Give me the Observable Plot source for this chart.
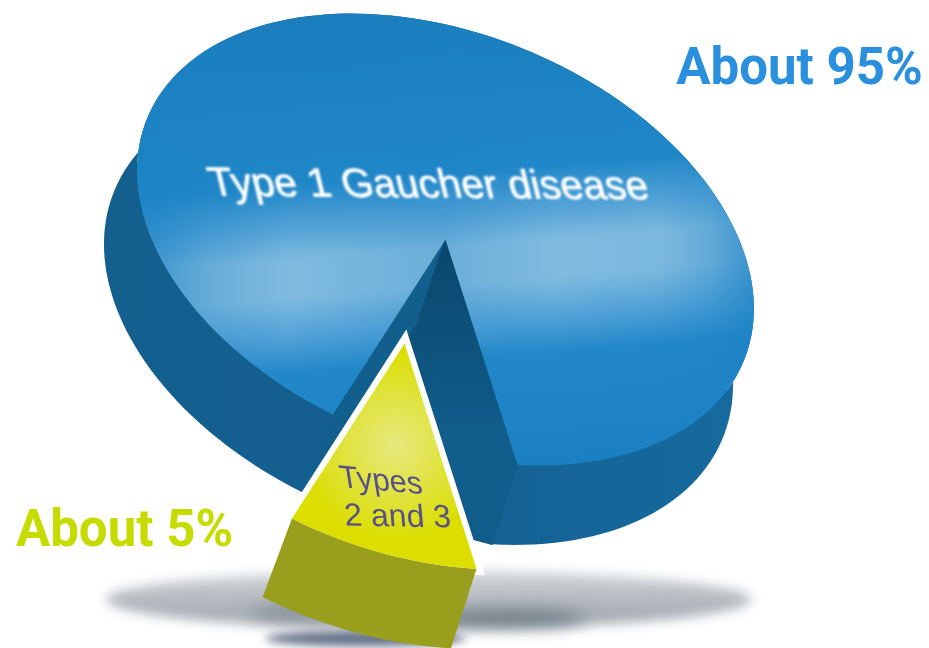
<!DOCTYPE html>
<html>
<head>
<meta charset="utf-8">
<script src="https://cdn.jsdelivr.net/npm/d3@7"></script>
<script src="https://cdn.jsdelivr.net/npm/@observablehq/plot@0.6"></script>
<style>html,body{margin:0;padding:0;background:#fff}svg{display:block}</style>
</head>
<body>
<div id="chart"></div>
<script>
// Data
const categories = ["Type 1 Gaucher disease", "Types 2 and 3"];
const shares = [95, 5];
const shareLabels = ["About 95%", "About 5%"];
const smallLabelLines = ["Types", "2 and 3"];

// Pie geometry (the picture draws the small slice wider than its true share)
const W = 929, H = 648;
const rad = Math.PI / 180;
const center = [445, 239], rimA = 322, rimB = 206, tilt = 22 * rad;
const floorCenter = [418, 314], floorScale = 1.02;
const depth = [-28, 83], explode = [-41, 104];
const smallStart = 62 * rad, exaggeration = 1.94;

const smallSweep = shares[1] / 100 * 2 * Math.PI * exaggeration;
const smallEnd = smallStart + smallSweep;
const bigEnd = smallStart + 2 * Math.PI;

const ellipse = (t, c, s, off) => {
  const u = s * rimA * Math.cos(t), v = s * rimB * Math.sin(t);
  return {
    x: c[0] + off[0] + u * Math.cos(tilt) - v * Math.sin(tilt),
    y: c[1] + off[1] + u * Math.sin(tilt) + v * Math.cos(tilt)
  };
};
const rim = (t, off = [0, 0]) => ellipse(t, center, 1, off);
const floor = (t, off = [0, 0]) => ellipse(t, floorCenter, floorScale, off);
const steps = d3.range(0, 161).map(i => i / 160);
const arc = (a, b, off, f = rim) => steps.map(i => f(a + (b - a) * i, off));
const apex = (off = [0, 0]) => ({x: center[0] + off[0], y: center[1] + off[1]});
const lowApex = (off = [0, 0]) => ({x: center[0] + depth[0] + off[0], y: center[1] + depth[1] + off[1]});
const slice = (a, b, off) => [apex(off), ...arc(a, b, off)];
const band = (a, b, off = [0, 0]) => [...arc(a, b, off), ...arc(a, b, off, floor).reverse()];
const wall = (t, off = [0, 0]) => [apex(off), rim(t, off), floor(t, off), lowApex(off)];
const notch = () => [lowApex(), floor(smallStart), floor(smallEnd)];
const blob = (cx, cy, rx, ry) => d3.range(0, 90).map(i => ({
  x: cx + rx * Math.cos(i * 4 * rad), y: cy + ry * Math.sin(i * 4 * rad)
}));
const poly = (pts, options) => Plot.line(pts, {x: "x", y: "y", curve: "linear-closed", stroke: "none", ...options});

const defs = () => {
  const d = d3.create("svg:defs");
  const grad = (id, kind, attrs, stops) => {
    const g = d.append(kind).attr("id", id).attr("gradientUnits", "userSpaceOnUse");
    Object.entries(attrs).forEach(([k, v]) => g.attr(k, v));
    stops.forEach(([o, c, a = 1]) => g.append("stop").attr("offset", o).attr("stop-color", c).attr("stop-opacity", a));
  };
  grad("blueTop", "linearGradient", {x1: 3.2, y1: 39.7, x2: 40.4, y2: 504.8}, [
    [0, "#1a7dbd"], [0.36, "#2087c8"], [0.46, "#5aa6d8"], [0.52, "#80bbdf"], [0.6, "#80bbdf"],
    [0.68, "#54a3d8"], [0.76, "#2388c9"], [1, "#1a80c2"]
  ]);
  grad("blueDim", "linearGradient", {x1: 135, y1: 0, x2: 752, y2: 0}, [
    [0, "#1b82c4", 0.7], [0.12, "#1b82c4", 0.25], [0.25, "#1b82c4", 0], [0.5, "#1b82c4", 0.22],
    [0.68, "#1b82c4", 0], [0.85, "#1b82c4", 0.05], [0.93, "#1b82c4", 0.3], [1, "#1b82c4", 0.7]
  ]);
  grad("blueWall", "linearGradient", {x1: 100, y1: 0, x2: 730, y2: 0}, [
    [0, "#135f8e"], [0.5, "#145f90"], [1, "#166a9e"]
  ]);
  grad("innerRight", "linearGradient", {x1: 0, y1: 240, x2: 0, y2: 430}, [
    [0, "#0a466c"], [1, "#105c8b"]
  ]);
  grad("yellowTop", "radialGradient", {cx: 395, cy: 445, r: 95}, [
    [0, "#e6e97e"], [0.55, "#e0e33c"], [1, "#dbde00"]
  ]);
  grad("shadow", "linearGradient", {x1: 0, y1: 570, x2: 0, y2: 628}, [
    [0, "#d5d8db"], [0.5, "#b5babf"], [1, "#9aa3aa"]
  ]);
  return d.node();
};

const chart = Plot.plot({
  width: W, height: H, margin: 0,
  style: {background: "#fff"},
  x: {domain: [0, W], range: [0, W], axis: null},
  y: {domain: [0, H], range: [0, H], axis: null},
  marks: [
    defs,
    // ground shadow
    poly(blob(428, 599, 323, 29), {fill: "url(#shadow)", imageFilter: "blur(6px)"}),
    poly(blob(510, 618, 75, 9), {fill: "#66747f", fillOpacity: 0.8, imageFilter: "blur(8px)"}),
    poly(blob(295, 612, 45, 8), {fill: "#7a868f", fillOpacity: 0.7, imageFilter: "blur(8px)"}),
    poly(blob(365, 638, 100, 8), {fill: "#68748a", imageFilter: "blur(4px)"}),
    // big slice
    poly(slice(smallEnd, bigEnd, [floorCenter[0] - center[0], floorCenter[1] - center[1]]), {fill: "#135f8e"}),
    poly(band(smallEnd, bigEnd), {fill: "url(#blueWall)"}),
    poly(notch(), {fill: "url(#innerRight)", stroke: "url(#innerRight)", strokeWidth: 1.5}),
    poly(wall(smallEnd), {fill: "#125f8d"}),
    poly(wall(smallStart + 2 * Math.PI), {fill: "url(#innerRight)", stroke: "url(#innerRight)", strokeWidth: 1}),
    poly(slice(smallEnd, bigEnd), {fill: "url(#blueTop)"}),
    poly(slice(smallEnd, bigEnd), {fill: "url(#blueDim)"}),
    // small slice
    poly(slice(smallStart, smallEnd, explode), {fill: "#fff", stroke: "#fff", strokeWidth: 12, strokeLinejoin: "miter", strokeMiterlimit: 8}),
    poly(band(smallStart, smallEnd, explode), {fill: "#9a9e1d"}),
    poly(slice(smallStart, smallEnd, explode), {fill: "url(#yellowTop)"}),
    // labels
    Plot.text([shareLabels[0]], {
      x: 799, y: 83, text: d => d, fill: "#2a8fdc", fontSize: 51, fontWeight: 700,
      fontFamily: "Roboto", textAnchor: "middle", lineAnchor: "bottom", imageFilter: "blur(0.7px)"
    }),
    Plot.text([shareLabels[1]], {
      x: 124, y: 545, text: d => d, fill: "#c6dc00", fontSize: 51, fontWeight: 700,
      fontFamily: "Roboto", textAnchor: "middle", lineAnchor: "bottom", imageFilter: "blur(0.7px)"
    }),
    Plot.text([categories[0]], {
      x: 431, y: 197, text: d => d, fill: "#fff", stroke: "#fff", strokeWidth: 0.7, fontSize: 40.5,
      fontFamily: "Liberation Sans", textAnchor: "middle", lineAnchor: "bottom", imageFilter: "blur(0.8px)"
    }),
    Plot.text([smallLabelLines[0]], {
      x: 382, y: 490, text: d => d, fill: "#5a5088", fontSize: 31, fontFamily: "Liberation Sans",
      textAnchor: "middle", lineAnchor: "bottom", imageFilter: "blur(0.7px)"
    }),
    Plot.text([smallLabelLines[1]], {
      x: 398, y: 526, text: d => d, fill: "#5a5088", fontSize: 32, fontFamily: "Liberation Sans",
      textAnchor: "middle", lineAnchor: "bottom", imageFilter: "blur(0.7px)"
    })
  ]
});

// the labels printed on the disc lean back, as if laid on its surface
const lean = new Map([[categories[0], "rotate(0.5) skewX(14)"], [smallLabelLines[0], "rotate(5) skewX(14)"], [smallLabelLines[1], "rotate(1) skewX(6)"]]);
d3.select(chart).selectAll("text").each(function () {
  const extra = lean.get(this.textContent);
  if (extra) this.setAttribute("transform", `${this.getAttribute("transform") || ""} ${extra}`);
});
document.getElementById("chart").append(chart);
</script>
</body>
</html>
